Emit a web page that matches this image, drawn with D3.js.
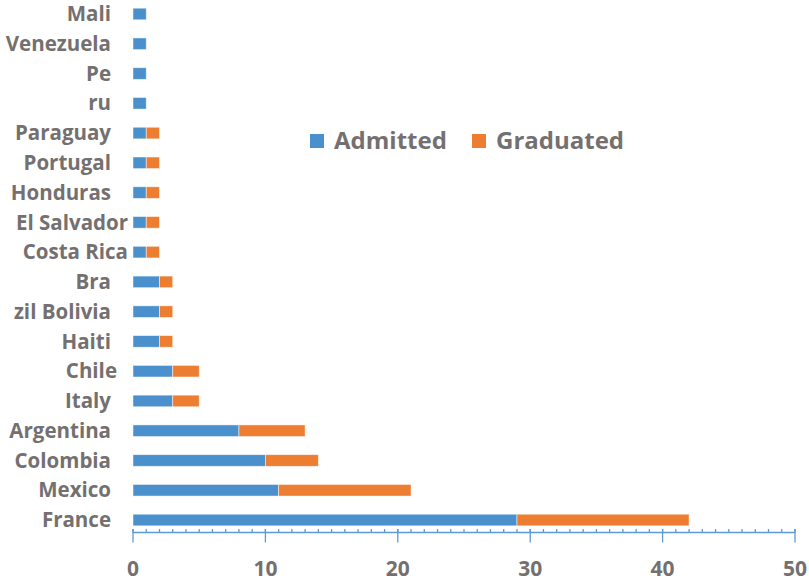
<!DOCTYPE html>
<html>
<head>
<meta charset="utf-8">
<script src="https://cdn.jsdelivr.net/npm/d3@7"></script>
<style>
  body { margin: 0; background: #fff; }
  text { font-family: "Open Sans", sans-serif; font-weight: bold; fill: #747070; }
</style>
</head>
<body>
<script>
// chart data, top row first
var countries = ["Mali", "Venezuela", "Pe", "ru", "Paraguay", "Portugal", "Honduras",
  "El Salvador", "Costa Rica", "Bra", "zil Bolivia", "Haiti", "Chile", "Italy",
  "Argentina", "Colombia", "Mexico", "France"];
var admitted  = [1, 1, 1, 1, 1, 1, 1, 1, 1, 2, 2, 2, 3, 3, 8, 10, 11, 29];
var graduated = [0, 0, 0, 0, 1, 1, 1, 1, 1, 1, 1, 1, 2, 2, 5, 4, 10, 13];
var seriesNames = ["Admitted", "Graduated"];
var xTicks = [0, 10, 20, 30, 40, 50];
// a few labels sit further right in the original
var labelShift = {"Chile": 6, "El Salvador": 17, "Costa Rica": 17};

var W = 809, H = 583;
var colors = ["#4a90cc", "#ed7d31"];

var svg = d3.select("body").append("svg").attr("width", W).attr("height", H);

var x = d3.scaleLinear().domain([0, 50]).range([133, 795]);
var y = d3.scaleBand().domain(countries).range([-0.9, 534.9])
  .paddingInner(0.61).paddingOuter(0.305);

// stacked rows
var rows = countries.map(function(c, i){
  return {name: c, a: admitted[i], g: graduated[i]};
});
var stack = d3.stack().keys(["a", "g"])(rows);

svg.append("g").selectAll("g").data(stack).enter().append("g")
  .attr("fill", function(d, i){ return colors[i]; })
  .selectAll("rect").data(function(d){ return d.filter(function(p){ return p[1] > p[0]; }); })
  .enter().append("rect")
  .attr("x", function(d){ return x(d[0]); })
  .attr("y", function(d){ return y(d.data.name); })
  .attr("width", function(d){ return x(d[1]) - x(d[0]); })
  .attr("height", y.bandwidth())
  .attr("stroke", "#ffffff").attr("stroke-opacity", 0.6).attr("stroke-width", 0.8);

// category labels
svg.append("g").selectAll("text").data(countries).enter().append("text")
  .attr("x", function(d){ return 111 + (labelShift[d] || 0); })
  .attr("y", function(d){ return y(d) + y.bandwidth() / 2; })
  .attr("dy", "0.35em")
  .attr("text-anchor", "end")
  .style("font-size", "20.5px")
  .text(function(d){ return d; });

// x axis
var axisY = 532.5;
var ax = svg.append("g").attr("transform", "translate(0," + axisY + ")");
ax.append("line").attr("x1", x(0)).attr("x2", x(50)).attr("stroke", "#5b9bd5").attr("stroke-width", 1.3);
ax.selectAll("line.minor").data(d3.range(0, 51)).enter().append("line")
  .attr("class", "minor")
  .attr("x1", function(d){ return x(d); }).attr("x2", function(d){ return x(d); })
  .attr("y1", -3.5).attr("y2", 0)
  .attr("stroke", "#5b9bd5").attr("stroke-width", 1.3);
ax.selectAll("line.major").data(xTicks).enter().append("line")
  .attr("class", "major")
  .attr("x1", function(d){ return x(d); }).attr("x2", function(d){ return x(d); })
  .attr("y1", -3.5).attr("y2", 10)
  .attr("stroke", "#5b9bd5").attr("stroke-width", 1.3);
ax.selectAll("text").data(xTicks).enter().append("text")
  .attr("x", function(d){ return x(d); })
  .attr("y", 36)
  .attr("dy", "0.35em")
  .attr("text-anchor", "middle")
  .style("font-size", "21px")
  .text(function(d){ return d; });

// legend
var legendX = [310, 472];
var lg = svg.append("g").selectAll("g").data(seriesNames).enter().append("g")
  .attr("transform", function(d, i){ return "translate(" + legendX[i] + ",141)"; });
lg.append("rect").attr("x", 0).attr("y", -7).attr("width", 14).attr("height", 14)
  .attr("fill", function(d, i){ return colors[i]; });
lg.append("text").attr("x", 24).attr("dy", "0.35em")
  .style("font-size", "24px")
  .text(function(d){ return d; });
</script>
</body>
</html>
